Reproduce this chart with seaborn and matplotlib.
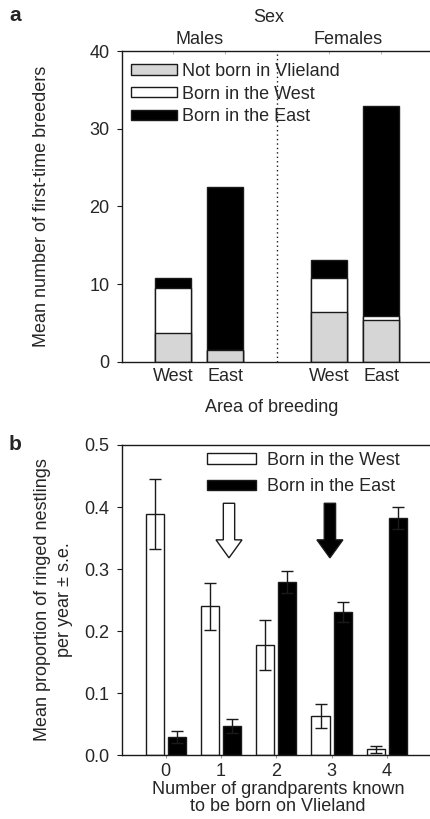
import numpy as np
import pandas as pd
import matplotlib
matplotlib.use("Agg")
import matplotlib.pyplot as plt
import seaborn as sns
from matplotlib.patches import Patch

# ---------------- data: panel a ----------------
a_sex = ["Males", "Females"]
a_area = ["West", "East", "West", "East"]
a_pos = [0, 1, 3, 4]
a_not_born = [3.66, 1.5, 6.37, 5.37]
a_born_west = [5.88, 0.0, 4.43, 0.56]
a_born_east = [1.26, 21.0, 2.27, 26.97]
a_legend = ["Not born in Vlieland", "Born in the West", "Born in the East"]
a_yticks = [0, 10, 20, 30, 40]

# ---------------- data: panel b ----------------
b_grandparents = [0, 1, 2, 3, 4]
b_west_mean = [0.389, 0.240, 0.177, 0.063, 0.009]
b_west_se = [0.056, 0.038, 0.040, 0.020, 0.006]
b_east_mean = [0.029, 0.047, 0.279, 0.230, 0.382]
b_east_se = [0.010, 0.011, 0.018, 0.016, 0.018]
b_legend = ["Born in the West", "Born in the East"]
b_yticks = [0.0, 0.1, 0.2, 0.3, 0.4, 0.5]

# ---------------- style ----------------
sns.set_style("ticks")
plt.rcParams["font.family"] = ["Liberation Sans", "DejaVu Sans"]
FS = 13
EDGE = "#1a1a1a"
GREY = "#d6d6d6"
W, H = 430, 819

fig = plt.figure(figsize=(W / 100, H / 100), dpi=100)


def fx(x):
    return x / W


def fy(y):
    return 1 - y / H


def style_axes(ax):
    for s in ["left", "bottom", "top"]:
        ax.spines[s].set_color(EDGE)
        ax.spines[s].set_linewidth(1.0)
    ax.spines["right"].set_visible(False)
    ax.tick_params(axis="y", direction="out", length=3.6, width=0.8,
                   color=EDGE, pad=5.5, labelsize=FS)


# ================= panel a =================
axa = fig.add_axes([fx(122), fy(361.7), fx(430) - fx(122), (361.7 - 51) / H])
style_axes(axa)

grey_top = np.array(a_not_born)
white_top = grey_top + np.array(a_born_west)
black_top = white_top + np.array(a_born_east)

for vals, col in [(black_top, "black"), (white_top, "white"), (grey_top, GREY)]:
    sns.barplot(x=a_pos, y=vals, native_scale=True, orient="x", width=0.7,
                color=col, saturation=1, edgecolor=EDGE, linewidth=1.0,
                errorbar=None, ax=axa)

axa.axvline(2, ls=(0, (1, 2.2)), color=EDGE, lw=1.0, zorder=0)
axa.set_xlim(-0.98, 4.94)
axa.set_ylim(0, 40)
axa.set_yticks(a_yticks)
axa.set_xticks(a_pos)
axa.set_xticklabels(a_area, fontsize=FS)
axa.tick_params(axis="x", top=True, bottom=True, direction="in", length=2,
                color="#bbbbbb", pad=4.5, labelsize=FS)
axa.set_xlabel("")
axa.set_ylabel("")

handles_a = [Patch(facecolor=c, edgecolor=EDGE, linewidth=1.0)
             for c in [GREY, "white", "black"]]
axa.legend(handles_a, a_legend, loc="upper left", frameon=False,
           bbox_to_anchor=(fx(130.7), fy(63)), bbox_transform=fig.transFigure,
           borderpad=0, borderaxespad=0, fontsize=FS, handlelength=2.55,
           handleheight=0.5, handletextpad=0.28, labelspacing=0.31)

fig.text(fx(269), fy(18), "Sex", ha="center", va="center", fontsize=FS)
for label, xc in zip(a_sex, [200, 348]):
    fig.text(fx(xc), fy(40), label, ha="center", va="center", fontsize=FS)
fig.text(fx(272), fy(407), "Area of breeding", ha="center", va="center", fontsize=FS)
fig.text(fx(42), fy(206), "Mean number of first-time breeders", ha="center",
         va="center", rotation=90, fontsize=FS)
fig.text(fx(15.5), fy(15.5), "a", ha="center", va="center", fontsize=15,
         fontweight="bold")

# ================= panel b =================
axb = fig.add_axes([fx(122), fy(755), fx(430) - fx(122), (755 - 445) / H])
style_axes(axb)

df = pd.DataFrame({
    "gp": b_grandparents * 2,
    "mean": b_west_mean + b_east_mean,
    "se": b_west_se + b_east_se,
    "origin": [b_legend[0]] * len(b_grandparents) + [b_legend[1]] * len(b_grandparents),
})
sns.barplot(data=df, x="gp", y="mean", hue="origin", hue_order=b_legend,
            palette={b_legend[0]: "white", b_legend[1]: "black"}, saturation=1,
            edgecolor=EDGE, linewidth=1.0, width=0.8, gap=0.175,
            errorbar=None, legend=False, ax=axb)

for cont, (m, s) in zip(axb.containers, [(b_west_mean, b_west_se), (b_east_mean, b_east_se)]):
    xc = [p.get_x() + p.get_width() / 2 for p in cont.patches]
    axb.errorbar(xc, m, yerr=s, fmt="none", ecolor=EDGE, elinewidth=1.0,
                 capsize=4.2, capthick=1.0, zorder=5)

# arrows (annotations)
arrow_x = [1.145, 2.97]
arrow_fc = ["white", "black"]
for xa, fc in zip(arrow_x, arrow_fc):
    axb.arrow(xa, 0.406, 0, -0.088, width=0.205, head_width=0.47,
              head_length=0.029, length_includes_head=True, fc=fc, ec=EDGE,
              lw=1.0, zorder=4)

axb.set_xlim(-0.79, 4.78)
axb.set_ylim(0, 0.5)
axb.set_yticks(b_yticks)
axb.set_yticklabels([f"{v:.1f}" for v in b_yticks])
axb.tick_params(axis="x", direction="out", length=2, color="#999999",
                pad=3.5, labelsize=FS)
axb.set_xlabel("")
axb.set_ylabel("")

handles_b = [Patch(facecolor=c, edgecolor=EDGE, linewidth=1.0) for c in ["white", "black"]]
axb.legend(handles_b, b_legend, loc="upper left", frameon=False,
           bbox_to_anchor=(fx(207), fy(452)), bbox_transform=fig.transFigure,
           borderpad=0, borderaxespad=0, fontsize=FS, handlelength=2.7,
           handleheight=0.55, handletextpad=0.6, labelspacing=0.52)

fig.text(fx(278), fy(798), "Number of grandparents known\nto be born on Vlieland",
         ha="center", va="center", fontsize=FS, linespacing=1.0)
fig.text(fx(53.5), fy(600), "Mean proportion of ringed nestlings\nper year ± s.e.",
         ha="center", va="center", rotation=90, fontsize=FS, linespacing=1.35)
fig.text(fx(15), fy(445), "b", ha="center", va="center", fontsize=15,
         fontweight="bold")

fig.savefig("out.png", dpi=100)
